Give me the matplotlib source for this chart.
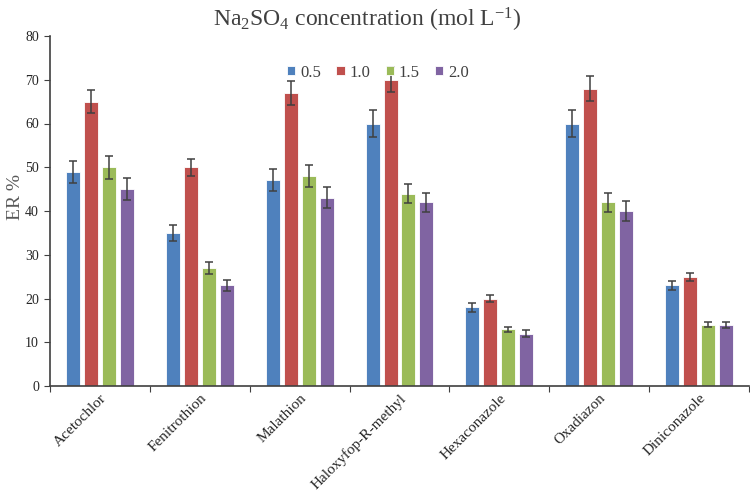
import matplotlib
matplotlib.use("Agg")
import matplotlib.pyplot as plt
import numpy as np

categories = ["Acetochlor", "Fenitrothion", "Malathion", "Haloxyfop-R-methyl",
              "Hexaconazole", "Oxadiazon", "Diniconazole"]
series_labels = ["0.5", "1.0", "1.5", "2.0"]
er_05 = [49, 35, 47, 60, 18, 60, 23]
er_10 = [65, 50, 67, 70, 20, 68, 25]
er_15 = [50, 27, 48, 44, 13, 42, 14]
er_20 = [45, 23, 43, 42, 12, 40, 14]
err_05 = [2.5, 1.8, 2.5, 3.0, 1.0, 3.0, 1.1]
err_10 = [2.7, 2.0, 2.8, 2.9, 0.7, 2.8, 0.9]
err_15 = [2.6, 1.4, 2.5, 2.2, 0.6, 2.2, 0.6]
err_20 = [2.5, 1.2, 2.4, 2.2, 0.7, 2.2, 0.7]
yticks = [0, 10, 20, 30, 40, 50, 60, 70, 80]

values = [er_05, er_10, er_15, er_20]
errors = [err_05, err_10, err_15, err_20]
colors = ["#4F81BD", "#C0504D", "#9BBB59", "#8064A2"]

plt.rcParams["mathtext.fontset"] = "custom"
plt.rcParams["mathtext.rm"] = "Liberation Serif"
plt.rcParams["mathtext.it"] = "Liberation Serif:italic"

fig = plt.figure(figsize=(7.5, 4.92), dpi=100)
ax = fig.add_axes([50/750, 1-386/492, 699/750, 350/492])

x = np.arange(len(categories))
width = 0.14
step = 0.18
for i, (vals, errs, c, lab) in enumerate(zip(values, errors, colors, series_labels)):
    offs = (i - 1.5) * step
    ax.bar(x + offs, vals, width, color=c, edgecolor="white", linewidth=0.6,
           label=lab, yerr=errs,
           error_kw=dict(ecolor="#404040", elinewidth=1.1, capsize=3, capthick=1.1))

ax.set_xlim(-0.5, len(categories) - 0.5)
ax.set_ylim(0, 80)
ax.set_yticks(yticks)
ax.set_yticklabels([str(t) for t in yticks], family="Liberation Serif", fontsize=10,
                   color="#262626")
ax.set_xticks(np.arange(len(categories) + 1) - 0.5)
ax.set_xticklabels([])
ax.set_xticks(x, minor=True)
ax.set_xticklabels(categories, minor=True, rotation=45, ha="right", va="top",
                   rotation_mode="anchor", family="Liberation Serif", fontsize=11,
                   color="#262626")
ax.tick_params(axis="x", which="minor", length=0, pad=4)
ax.tick_params(axis="x", which="major", length=4, direction="out", color="#404040")
ax.tick_params(axis="y", length=4, direction="out", color="#404040", pad=4)
for s in ["top", "right"]:
    ax.spines[s].set_visible(False)
for s in ["left", "bottom"]:
    ax.spines[s].set_color("#404040")
    ax.spines[s].set_linewidth(1.2)

fig.text(15/750, 1-197/492, "ER %", rotation=90, ha="center", va="center",
         family="Liberation Serif", fontsize=14, color="#595959")
fig.text(367/750, 1-20/492, r"Na$_2$SO$_4$ concentration (mol L$^{-1}$)",
         ha="center", va="center", family="Liberation Serif", fontsize=17,
         color="#404040")
leg = ax.legend(loc="upper center", bbox_to_anchor=(378/750, 1-58/492),
                bbox_transform=fig.transFigure, ncol=4, frameon=False,
                prop={"family": "Liberation Serif", "size": 12},
                handlelength=0.5, handleheight=0.5, handletextpad=0.3,
                columnspacing=0.9, borderaxespad=0)
for t in leg.get_texts():
    t.set_color("#404040")

fig.savefig("out.png", dpi=100)
